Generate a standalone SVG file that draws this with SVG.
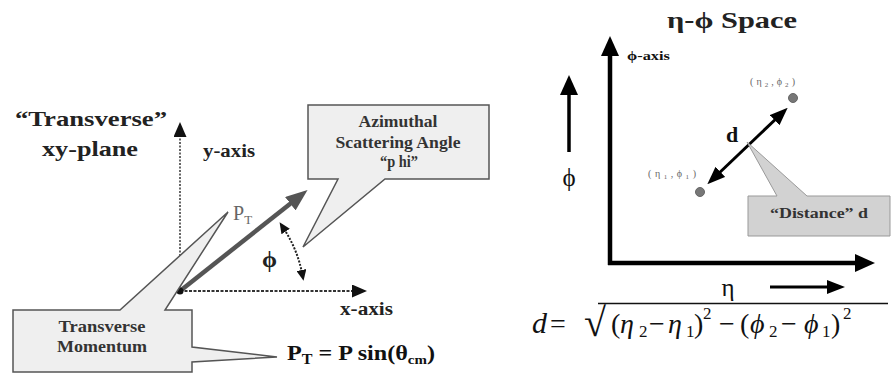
<svg xmlns="http://www.w3.org/2000/svg" width="891" height="381" viewBox="0 0 891 381" font-family="Liberation Serif, serif">
<defs>
<marker id="ahBig" markerUnits="userSpaceOnUse" markerWidth="20" markerHeight="18" viewBox="0 0 20 18" refX="6" refY="9" orient="auto"><path d="M0,0 L20,9 L0,18 z" fill="#000"/></marker>
<marker id="ahMid" markerUnits="userSpaceOnUse" markerWidth="18" markerHeight="14" viewBox="0 0 18 14" refX="6" refY="7" orient="auto-start-reverse"><path d="M0,0 L18,7 L0,14 z" fill="#000"/></marker>
<marker id="ahGray" markerUnits="userSpaceOnUse" markerWidth="22" markerHeight="17" viewBox="0 0 22 17" refX="6" refY="8.5" orient="auto"><path d="M0,0 L22,8.5 L0,17 z" fill="#555"/></marker>
<marker id="ahAxis" markerUnits="userSpaceOnUse" markerWidth="15" markerHeight="13" viewBox="0 0 15 13" refX="4" refY="6.5" orient="auto"><path d="M0,0 L15,6.5 L0,13 z" fill="#111"/></marker>
<marker id="ahSmall" markerUnits="userSpaceOnUse" markerWidth="11" markerHeight="10" viewBox="0 0 11 10" refX="3" refY="5" orient="auto-start-reverse"><path d="M0,0 L11,5 L0,10 z" fill="#111"/></marker>
</defs>

<g id="title-left" font-weight="bold" fill="#222">
<text x="15" y="126" font-size="21" textLength="152" lengthAdjust="spacingAndGlyphs">“Transverse”</text>
<text x="42" y="156" font-size="22" textLength="96" lengthAdjust="spacingAndGlyphs">xy-plane</text>
</g>

<g id="connectors">
<line x1="180" y1="291" x2="180" y2="133" stroke="#666" stroke-width="2" stroke-dasharray="2 1.5" marker-end="url(#ahAxis)"/>
<line x1="180" y1="291" x2="356" y2="291" stroke="#333" stroke-width="2.2" stroke-dasharray="3 1.5" marker-end="url(#ahAxis)"/>
<line x1="180" y1="291" x2="295" y2="200" stroke="#555" stroke-width="4.5" marker-end="url(#ahGray)"/>
<path d="M284,229 A123,123 0 0 1 302,273" fill="none" stroke="#222" stroke-width="2" stroke-dasharray="2 1.5" marker-start="url(#ahSmall)" marker-end="url(#ahSmall)"/>
<line x1="610" y1="265" x2="610" y2="50" stroke="#000" stroke-width="4.5" marker-end="url(#ahBig)"/>
<line x1="608" y1="263" x2="861" y2="263" stroke="#000" stroke-width="4.5" marker-end="url(#ahBig)"/>
<line x1="569" y1="152" x2="569" y2="89" stroke="#000" stroke-width="3.5" marker-end="url(#ahBig)"/>
<line x1="770" y1="287" x2="833" y2="287" stroke="#000" stroke-width="3" marker-end="url(#ahMid)"/>
<line x1="716" y1="176" x2="779" y2="116" stroke="#000" stroke-width="3" marker-start="url(#ahMid)" marker-end="url(#ahMid)"/>
</g>

<g id="origin"><circle cx="180" cy="291" r="3.5" fill="#111"/></g>

<g id="axis-labels-left" font-weight="bold" fill="#222">
<text x="203" y="157" font-size="18" textLength="52" lengthAdjust="spacingAndGlyphs">y-axis</text>
<text x="340" y="315" font-size="18" textLength="53" lengthAdjust="spacingAndGlyphs">x-axis</text>
<text x="233" y="220" font-size="20" font-weight="normal" fill="#666">P<tspan font-size="13" dy="4">T</tspan></text>
<text x="262" y="267" font-size="24">ϕ</text>
</g>

<g id="azimuthal-callout" font-weight="bold" font-size="16" fill="#333" text-anchor="middle">
<path d="M308,105 L489,105 L489,179 L385,179 L303,247 L338,179 L308,179 Z" fill="#efefef" stroke="#555" stroke-width="1.5"/>
<text x="398" y="127" textLength="79" lengthAdjust="spacingAndGlyphs">Azimuthal</text>
<text x="398" y="148" textLength="125" lengthAdjust="spacingAndGlyphs">Scattering Angle</text>
<text x="399" y="167" textLength="38" lengthAdjust="spacingAndGlyphs">“p hi”</text>
</g>

<g id="transverse-callout" font-weight="bold" font-size="16" fill="#333" text-anchor="middle">
<path d="M13,310 L120,310 L228,212 L165,310 L192,310 L192,347 L277,357 L192,362 L192,372 L13,372 Z" fill="#efefef" stroke="#555" stroke-width="1.5"/>
<text x="102" y="332" textLength="87" lengthAdjust="spacingAndGlyphs">Transverse</text>
<text x="102" y="352" textLength="90" lengthAdjust="spacingAndGlyphs">Momentum</text>
</g>

<g id="pt-formula" font-weight="bold" fill="#111">
<text x="287" y="360" font-size="21" textLength="148" lengthAdjust="spacingAndGlyphs">P<tspan font-size="14" dy="4">T</tspan><tspan dy="-4"> = P sin(θ</tspan><tspan font-size="13" dy="4">cm</tspan><tspan dy="-4">)</tspan></text>
</g>

<g id="title-right" font-weight="bold" fill="#222">
<text x="667" y="28" font-size="23" textLength="130" lengthAdjust="spacingAndGlyphs">η-ϕ Space</text>
</g>

<g id="axis-labels-right" fill="#111">
<text x="627" y="60" font-size="13" font-weight="bold" textLength="43" lengthAdjust="spacingAndGlyphs">ϕ-axis</text>
<text x="569" y="186" font-size="25" text-anchor="middle">ϕ</text>
<text x="728" y="296" font-size="25" text-anchor="middle">η</text>
<text x="726" y="142" font-size="22" font-weight="bold">d</text>
</g>

<g id="point2" font-size="10" fill="#666">
<circle cx="793" cy="98" r="4.5" fill="#777" stroke="#666"/>
<text x="750" y="85" textLength="45">(η<tspan font-size="7" dy="2">2</tspan><tspan dy="-2">,ϕ</tspan><tspan font-size="7" dy="2">2</tspan><tspan dy="-2">)</tspan></text>
</g>
<g id="point1" font-size="10" fill="#666">
<circle cx="700" cy="192" r="4.5" fill="#777" stroke="#666"/>
<text x="648" y="177" textLength="48">(η<tspan font-size="7" dy="2">1</tspan><tspan dy="-2">,ϕ</tspan><tspan font-size="7" dy="2">1</tspan><tspan dy="-2">)</tspan></text>
</g>

<g id="distance-callout" font-weight="bold" fill="#333">
<path d="M748,196 L777,196 L747,142 L807,196 L890,196 L890,236 L748,236 Z" fill="#d2d2d2" stroke="#999" stroke-width="1"/>
<text x="770" y="218" font-size="14" textLength="98" lengthAdjust="spacingAndGlyphs">“Distance” d</text>
</g>

<g id="distance-formula" fill="#111">
<text font-style="italic" x="532" y="333" font-size="30">d</text>
<text x="550" y="333" font-size="28">=</text>
<text x="584" y="336" font-size="40">√</text>
<line x1="598" y1="303.5" x2="888" y2="303.5" stroke="#111" stroke-width="1.5"/>
<text y="333" font-size="28"><tspan x="611">(</tspan><tspan x="620" font-style="italic">η</tspan><tspan x="639" dy="4" font-size="17">2</tspan><tspan x="649" dy="-4">−</tspan><tspan x="668" font-style="italic">η</tspan><tspan x="686" dy="4" font-size="17">1</tspan><tspan x="694" dy="-4">)</tspan><tspan x="703" dy="-14" font-size="17">2</tspan><tspan x="719" dy="14">−</tspan><tspan x="740">(</tspan><tspan x="750" font-style="italic">ϕ</tspan><tspan x="769" dy="4" font-size="17">2</tspan><tspan x="781" dy="-4">−</tspan><tspan x="804" font-style="italic">ϕ</tspan><tspan x="822" dy="4" font-size="17">1</tspan><tspan x="831" dy="-4">)</tspan><tspan x="843" dy="-14" font-size="17">2</tspan></text>
</g>
</svg>
